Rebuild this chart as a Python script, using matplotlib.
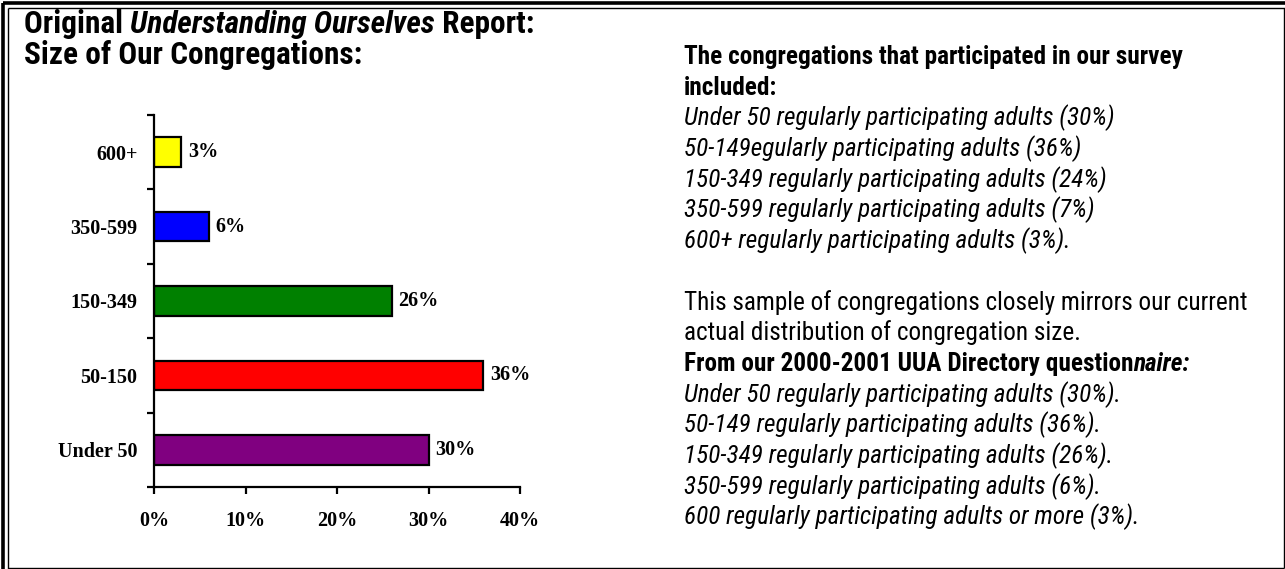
import matplotlib
matplotlib.use("Agg")
import matplotlib.pyplot as plt
from matplotlib.lines import Line2D
import numpy as np

categories = ["Under 50", "50-150", "150-349", "350-599", "600+"]
values = [30, 36, 26, 6, 3]
colors = ["#800080", "#FF0000", "#008000", "#0000FF", "#FFFF00"]
xticks = [0, 10, 20, 30, 40]
xticklabels = ["0%", "10%", "20%", "30%", "40%"]

survey_lines = [
    "Under 50 regularly participating adults (30%)",
    "50-149egularly participating adults (36%)",
    "150-349 regularly participating adults (24%)",
    "350-599 regularly participating adults (7%)",
    "600+ regularly participating adults (3%).",
]
directory_lines = [
    "Under 50 regularly participating adults (30%).",
    "50-149 regularly participating adults (36%).",
    "150-349 regularly participating adults (26%).",
    "350-599 regularly participating adults (6%).",
    "600 regularly participating adults or more (3%).",
]

W, H = 1285, 569
fig = plt.figure(figsize=(W / 100, H / 100), dpi=100)
fig.patch.set_facecolor("white")

SANS = ["Roboto Condensed", "Liberation Sans", "DejaVu Sans"]
SERIF = ["Liberation Serif", "DejaVu Serif"]

def fx(px):
    return px / W

def fy(py):
    return 1 - py / H

def fline(x0, y0, x1, y1, lw):
    fig.add_artist(Line2D([fx(x0), fx(x1)], [fy(y0), fy(y1)], color="black",
                          lw=lw, transform=fig.transFigure, solid_capstyle="butt"))

# double border (left/top), single (right/bottom)
fline(3, 3, W, 3, 2.6)
fline(3, 3, 3, H, 2.6)
fline(7.5, 7.5, W, 7.5, 1.0)
fline(7.5, 7.5, 7.5, H, 1.0)
fline(1284, 7.5, 1284, 567.5, 1.0)
fline(7.5, 567.5, 1284, 567.5, 1.0)

# bar chart
ax = fig.add_axes([fx(154), fy(487), fx(520) - fx(154), (487 - 115) / H])
y = np.arange(len(categories))
ax.barh(y, values, height=0.4, color=colors, edgecolor="black", linewidth=1.6)
ax.set_xlim(0, 40)
ax.set_ylim(-0.5, len(categories) - 0.5)
for s in ["top", "right"]:
    ax.spines[s].set_visible(False)
for s in ["left", "bottom"]:
    ax.spines[s].set_linewidth(1.6)
ax.set_xticks(xticks)
ax.set_xticklabels(xticklabels, fontfamily=SERIF, fontweight="bold", fontsize=14.5)
ax.set_yticks(y)
ax.set_yticklabels(categories, fontfamily=SERIF, fontweight="bold", fontsize=14.5)
ax.set_yticks(np.arange(-0.5, len(categories), 1.0), minor=True)
ax.tick_params(axis="y", which="major", length=0, pad=12)
ax.tick_params(axis="y", which="minor", length=5, width=1.6, direction="out")
ax.tick_params(axis="x", which="major", length=5, width=1.6, direction="out", pad=12)
for yi, v in zip(y, values):
    ax.text(v + 0.7, yi, f"{v}%", va="center", ha="left", fontfamily=SERIF,
            fontweight="bold", fontsize=14.5)

fig.canvas.draw()
r = fig.canvas.get_renderer()

def run_width(parts, size):
    total = 0
    for txt, weight, style in parts:
        t = fig.text(0, 0, txt, fontfamily=SANS, fontweight=weight, fontstyle=style, fontsize=size)
        total += t.get_window_extent(renderer=r).width
        t.remove()
    return total

def place_run(x, yb, parts, size):
    cx = x
    for txt, weight, style in parts:
        t = fig.text(fx(cx), fy(yb), txt, fontfamily=SANS, fontweight=weight,
                     fontstyle=style, fontsize=size, va="baseline", ha="left")
        cx += t.get_window_extent(renderer=r).width
    return cx

title1 = [("Original ", "bold", "normal"), ("Understanding Ourselves", "bold", "italic"),
          (" Report:", "bold", "normal")]
title2 = [("Size of Our Congregations:", "bold", "normal")]

# size fitting to the reference's measured line widths
title_size = 10 * 511 / run_width(title1, 10)
body_size = 10 * 430 / run_width([(survey_lines[0], "normal", "italic")], 10)

# title
place_run(24, 33, title1, title_size)
place_run(24, 64, title2, title_size)

# right-hand text
x0 = 684
ls = 30.7
yb = 64
place_run(x0, yb, [("The congregations that participated in our survey", "bold", "normal")], body_size)
yb += ls
place_run(x0, yb, [("included:", "bold", "normal")], body_size)
for line in survey_lines:
    yb += ls
    place_run(x0, yb, [(line, "normal", "italic")], body_size)
yb += 2 * ls
place_run(x0, yb, [("This sample of congregations closely mirrors our current", "normal", "normal")], body_size)
yb += ls
place_run(x0, yb, [("actual distribution of congregation size.", "normal", "normal")], body_size)
yb += ls
place_run(x0, yb, [("From our 2000-2001 UUA Directory question", "bold", "normal"),
                   ("naire:", "bold", "italic")], body_size)
for line in directory_lines:
    yb += ls
    place_run(x0, yb, [(line, "normal", "italic")], body_size)

fig.savefig("out.png", dpi=100, facecolor="white")
